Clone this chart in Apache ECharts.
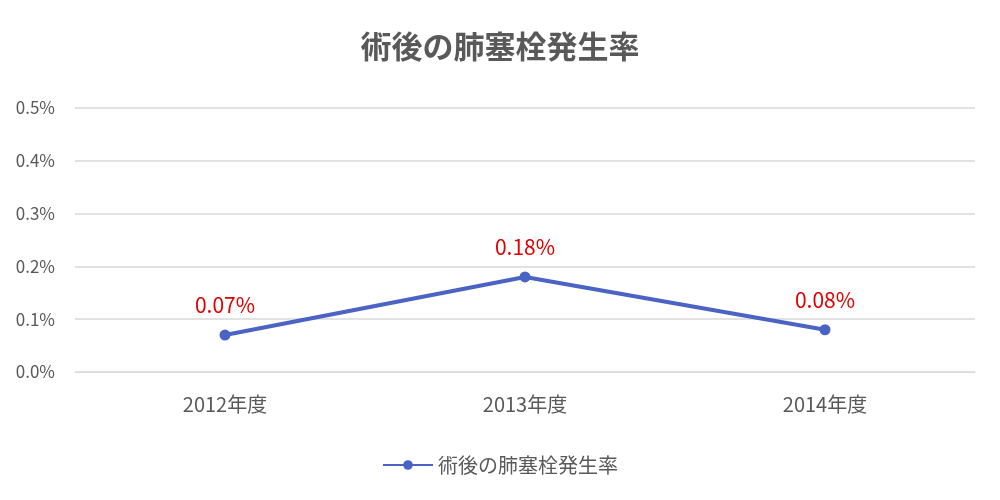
<!doctype html>
<html lang="ja">
<head>
<meta charset="UTF-8">
<script src="https://cdn.jsdelivr.net/npm/echarts@6/dist/echarts.min.js"></script>
<style>html,body{margin:0;background:#fff}</style>
</head>
<body>
<div id="main" style="width:1000px;height:500px;"></div>
<script>
var categories = ['2012年度', '2013年度', '2014年度'];
var rates = [0.07, 0.18, 0.08];
var seriesName = '術後の肺塞栓発生率';

var chart = echarts.init(document.getElementById('main'));
chart.setOption({
    textStyle: { fontFamily: 'Noto Sans CJK JP' },
    title: {
        text: '術後の肺塞栓発生率', left: 'center', top: 26,
        textStyle: { fontSize: 31, fontWeight: 'bold', color: '#595959' }
    },
    legend: {
        bottom: 20, left: 'center', itemWidth: 50, itemHeight: 12,
        textStyle: { fontSize: 20, color: '#595959' },
        data: [seriesName]
    },
    grid: { left: 75, right: 25, top: 108, bottom: 128 },
    xAxis: {
        type: 'category', data: categories, boundaryGap: true,
        axisLine: { lineStyle: { color: '#d9d9d9' } },
        axisTick: { show: false },
        axisLabel: { fontSize: 20, color: '#595959', margin: 22 }
    },
    yAxis: {
        type: 'value', min: 0, max: 0.5, interval: 0.1,
        axisLabel: { fontSize: 17, color: '#595959', margin: 20, formatter: function (v) { return v.toFixed(1) + '%'; } },
        splitLine: { lineStyle: { color: '#d9d9d9', width: 1.5 } }
    },
    series: [{
        name: seriesName, type: 'line', data: rates,
        symbol: 'circle', symbolSize: 11,
        lineStyle: { width: 4, color: '#4b63c5' },
        itemStyle: { color: '#4b63c5' },
        label: {
            show: true, position: 'top', distance: 14, fontSize: 21, color: '#e00000',
            formatter: function (p) { return p.value.toFixed(2) + '%'; }
        }
    }]
});
</script>
</body>
</html>
